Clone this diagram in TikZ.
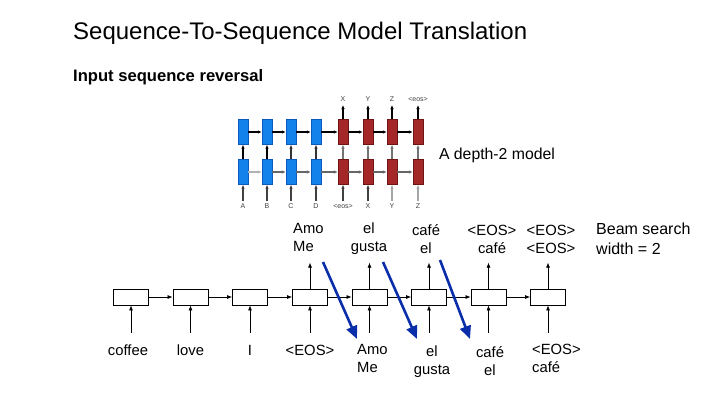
\documentclass[tikz,border=0pt]{standalone}
\usepackage{fontspec}
\setmainfont{Liberation Sans}
\usetikzlibrary{arrows.meta}
\definecolor{encblue}{RGB}{20,130,235}
\definecolor{encblueD}{RGB}{10,90,190}
\definecolor{decred}{RGB}{165,40,40}
\definecolor{decredD}{RGB}{110,20,20}
\definecolor{beamblue}{RGB}{10,45,170}
\begin{document}
\begin{tikzpicture}[x=1pt,y=-1pt,
  lbl/.style={font=\fontsize{14.8}{18}\selectfont, inner sep=0pt},
  tiny/.style={font=\fontsize{7}{8}\selectfont, text=black!75, inner sep=0pt},
  cell/.style={draw=black, line width=0.8pt, fill=white, minimum width=35pt, minimum height=16pt, inner sep=0pt},
  bcell/.style={draw=encblueD, fill=encblue, minimum width=10pt, minimum height=25pt, inner sep=0pt},
  rcell/.style={draw=decredD, fill=decred, minimum width=10pt, minimum height=25pt, inner sep=0pt},
  arr/.style={-{Latex[length=5pt,width=4pt]}, line width=0.7pt, draw=black},
  marr/.style={-{Latex[length=4pt,width=3.5pt]}, line width=1.1pt},
  beam/.style={-{Triangle[length=13pt,width=11pt]}, line width=2.6pt, draw=beamblue}
]
\useasboundingbox (0,0) rectangle (720,405);
\node[anchor=west, font=\fontsize{24}{28}\selectfont, inner sep=0pt] (title) at (73,33) {Sequence-To-Sequence Model Translation};
\node[anchor=west, font=\bfseries\fontsize{16.6}{20}\selectfont, inner sep=0pt] (sub) at (73,77) {Input sequence reversal};

% ---- depth-2 model picture ----
\foreach \i/\x in {1/243,2/267,3/291,4/316} {
  \node[bcell] (u\i) at (\x,132) {};
  \node[bcell] (l\i) at (\x,172) {};
}
\foreach \i/\x in {5/343,6/368,7/392,8/418} {
  \node[rcell] (u\i) at (\x,132) {};
  \node[rcell] (l\i) at (\x,172) {};
}
\foreach \i/\j in {1/2,2/3,3/4,4/5,5/6,6/7,7/8} {
  \draw[marr, draw=black] (u\i) -- (u\j);
}
\draw[marr, draw=black!30] (l1) -- (l2);
\foreach \i/\j in {2/3,3/4,4/5,5/6,6/7,7/8} {
  \draw[marr, draw=black!60] (l\i) -- (l\j);
}
\foreach \i in {1,2} { \draw[marr, draw=black, line width=1.6pt] (l\i) -- (u\i); }
\foreach \i in {3,4} { \draw[marr, draw=black!80] (l\i) -- (u\i); }
\foreach \i in {5,6,7,8} { \draw[marr, draw=black!55] (l\i) -- (u\i); }
% outputs
\foreach \i/\t in {5/X,6/Y,7/Z,8/<eos>} {
  \node[tiny] (o\i) at (u\i |- 0,99) {\t};
  \coordinate (oc\i) at (u\i |- 0,105);
  \draw[marr, draw=black] (u\i) -- (oc\i);
}
% inputs
\foreach \i/\t/\c in {1/A/black!75,2/B/black!75,3/C/black!75,4/D/black!75,5/<eos>/black!75,6/X/black!75,7/Y/black!35,8/Z/black!35} {
  \node[tiny] (in\i) at (l\i |- 0,206) {\t};
  \coordinate (ic\i) at (l\i |- 0,201);
  \draw[marr, draw=\c] (ic\i) -- (l\i);
}
\node[lbl, font=\fontsize{15.8}{19}\selectfont] (depth) at (497,155) {A depth-2 model};

% ---- beam search unrolled RNN ----
\foreach \i/\x in {1/131,2/190.5,3/250,4/310,5/369.5,6/429,7/488.5,8/548} {
  \node[cell] (c\i) at (\x,297) {};
  \coordinate (bi\i) at (\x,333);
  \draw[arr] (bi\i) -- (c\i);
}
\foreach \i/\j in {1/2,2/3,3/4,4/5,5/6,6/7,7/8} {
  \draw[arr] (c\i) -- (c\j);
}
\foreach \i in {4,5,6,7,8} {
  \path (c\i.north) ++(0,-26) coordinate (bo\i);
  \draw[arr] (c\i) -- (bo\i);
}
% input labels
\node[lbl] (w1) at (128,350) {coffee};
\node[lbl] (w2) at (190.5,350) {love};
\node[lbl] (w3) at (250,350) {I};
\node[lbl] (w4) at (310,350) {<EOS>};
\node[lbl, align=left, anchor=north west] (w5) at (357,344) {Amo\\Me};
\node[lbl, align=center] (w6) at (432,362) {el\\gusta};
\node[lbl, align=center] (w7) at (490,361) {café\\el};
\node[lbl, align=left, anchor=north west] (w8) at (532,344) {<EOS>\\café};
% output labels
\node[lbl, align=left, anchor=north west] (t4) at (293,223) {Amo\\Me};
\node[lbl, align=center] (t5) at (369,239) {el\\gusta};
\node[lbl, align=center] (t6) at (426,239) {café\\el};
\node[lbl, align=center] (t7) at (492,239) {<EOS>\\café};
\node[lbl, align=center] (t8) at (551,239) {<EOS>\\<EOS>};
\node[lbl, font=\fontsize{16}{20}\selectfont, align=left, anchor=north west] (beamtxt) at (596,223) {Beam search\\width = 2};

% blue beam arrows
\coordinate (s1) at (323,262); \coordinate (e1) at (357,339);
\coordinate (s2) at (383,262); \coordinate (e2) at (417,339);
\coordinate (s3) at (440,260); \coordinate (e3) at (470,339);
\draw[beam] (s1) -- (e1);
\draw[beam] (s2) -- (e2);
\draw[beam] (s3) -- (e3);
\end{tikzpicture}
\end{document}
